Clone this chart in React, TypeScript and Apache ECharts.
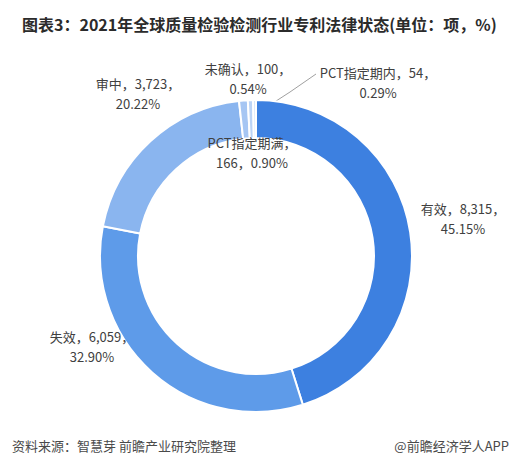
import React, { useEffect, useRef } from "react";
import * as echarts from "echarts";

const categories = ["有效", "失效", "审中", "PCT指定期满", "未确认", "PCT指定期内"];
const values = [8315, 6059, 3723, 166, 100, 54];
const percents = ["45.15", "32.90", "20.22", "0.90", "0.54", "0.29"];
const colors = ["#3d80e0", "#5e9be9", "#8ab5ef", "#a6c6f3", "#bcd4f6", "#d4e3f9"];
const titleText = "图表3：2021年全球质量检验检测行业专利法律状态(单位：项，%)";
const sourceText = "资料来源：智慧芽 前瞻产业研究院整理";
const brandText = "@前瞻经济学人APP";

// label centres (layout only)
const labelPos: [number, number][] = [
  [463, 218],
  [92, 346],
  [138, 93],
  [252, 152],
  [248, 78],
  [378, 82],
];

function fmt(n: number) {
  return n.toLocaleString("en-US");
}

export default function App() {
  const ref = useRef<HTMLDivElement>(null);
  useEffect(() => {
    document.body.style.margin = "0";
    const chart = echarts.init(ref.current!, undefined, { renderer: "svg" });
    const data = categories.map((name, i) => ({
      name,
      value: values[i],
      itemStyle: { color: colors[i] },
      labelLine: { show: i === 5, lineStyle: { color: "#a0a0a0", width: 1 } },
    }));
    chart.setOption({
      animation: false,
      backgroundColor: "#ffffff",
      title: [
        {
          text: titleText,
          left: 17,
          top: 11,
          textStyle: {
            fontFamily: "Noto Sans CJK SC",
            fontSize: 16,
            fontWeight: "bold",
            color: "#2b2b2b",
          },
        },
        {
          text: sourceText,
          left: 7,
          top: 434,
          textStyle: {
            fontFamily: "Noto Sans CJK SC",
            fontSize: 13,
            fontWeight: "normal",
            color: "#4a4a4a",
          },
        },
        {
          text: brandText,
          right: 6,
          top: 434,
          textStyle: {
            fontFamily: "Noto Sans CJK SC",
            fontSize: 13,
            fontWeight: "normal",
            color: "#4a4a4a",
          },
        },
      ],
      series: [
        {
          type: "pie",
          center: [256, 256],
          radius: [118, 156],
          startAngle: 90,
          clockwise: true,
          avoidLabelOverlap: false,
          itemStyle: { borderColor: "#ffffff", borderWidth: 2 },
          label: {
            show: true,
            position: "outside",
            align: "center",
            fontFamily: "Noto Sans CJK SC",
            fontSize: 13,
            lineHeight: 20,
            color: "#404040",
            formatter: (p: any) => {
              const i = p.dataIndex;
              if (i === 3) {
                return `${p.name}，\n${fmt(values[i])}，${percents[i]}%`;
              }
              return `${p.name}，${fmt(values[i])}，\n${percents[i]}%`;
            },
          },
          labelLine: { show: false },
          labelLayout: (params: any) => {
            const i = params.dataIndex;
            const [x, y] = labelPos[i];
            const res: any = { x, y, align: "center", verticalAlign: "middle" };
            if (i === 5) {
              res.labelLinePoints = [
                [256, 114],
                [290, 92],
                [316, 74],
              ];
            }
            return res;
          },
          data,
        },
      ],
    });
    return () => chart.dispose();
  }, []);
  return <div ref={ref} style={{ width: 520, height: 467 }} />;
}
